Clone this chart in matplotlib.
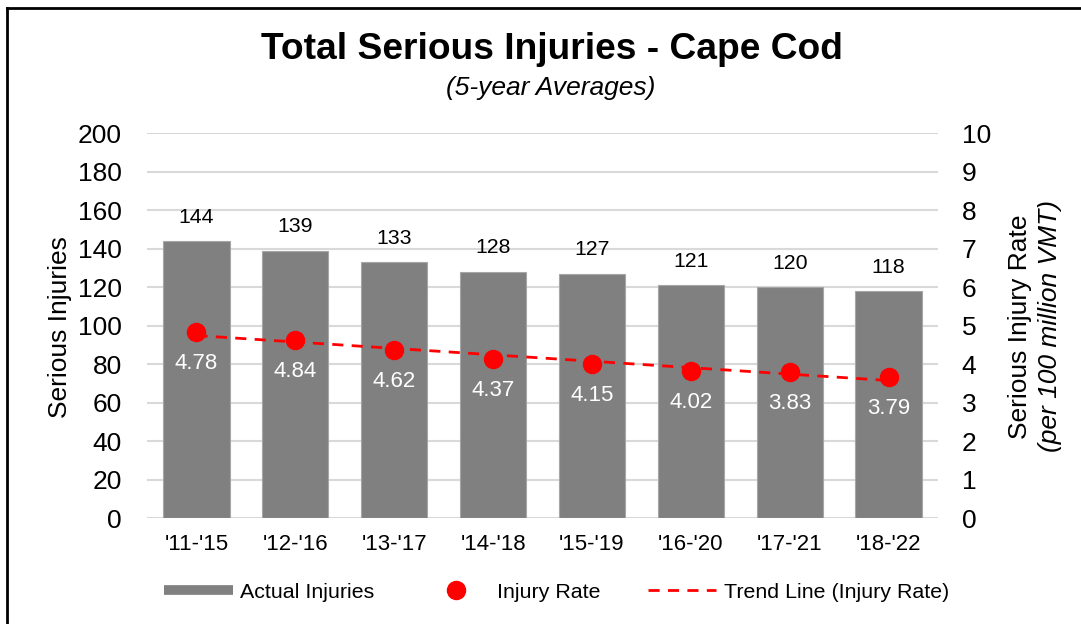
import numpy as np
import matplotlib.pyplot as plt
from matplotlib.lines import Line2D

plt.rcParams['font.family'] = ['Liberation Sans', 'DejaVu Sans']

periods = ["'11-'15", "'12-'16", "'13-'17", "'14-'18", "'15-'19", "'16-'20", "'17-'21", "'18-'22"]
injuries = [144, 139, 133, 128, 127, 121, 120, 118]
rate_points = [4.84, 4.62, 4.37, 4.15, 4.02, 3.83, 3.79, 3.68]
rate_labels = ["4.78", "4.84", "4.62", "4.37", "4.15", "4.02", "3.83", "3.79"]

fig = plt.figure(figsize=(10.81, 6.24), dpi=100)
ax = fig.add_axes([0.136, 0.1694, 0.7317, 0.617])
ax2 = ax.twinx()

x = np.arange(len(periods))
ax.bar(x, injuries, width=0.67, color='#808080', edgecolor='#a6a6a6', linewidth=0.8, zorder=2)
for xi, v in zip(x, injuries):
    ax.text(xi, v + 12.5, str(v), ha='center', va='center', fontsize=15.3, color='black')

ax.set_ylim(0, 200)
ax.set_yticks(range(0, 201, 20))
ax.set_xlim(-0.5, len(periods) - 0.5)
ax.set_xticks(x)
ax.set_xticklabels(periods, fontsize=16)
ax.tick_params(axis='y', labelsize=19, length=0, pad=18)
ax.tick_params(axis='x', length=0, pad=11)
ax.grid(axis='y', color='#d9d9d9', linewidth=1.5, zorder=0)
ax.set_axisbelow(True)
for s in ax.spines.values():
    s.set_visible(False)
for s in ax2.spines.values():
    s.set_visible(False)

# trend line from linear fit of rate
coef = np.polyfit(x, rate_points, 1)
ax2.plot(x, np.polyval(coef, x), color='#ff0000', linestyle=(0, (4, 3)), linewidth=2, zorder=3)
ax2.plot(x, rate_points, 'o', color='#ff0000', markersize=13, zorder=4)
for xi, v, lab in zip(x, rate_points, rate_labels):
    ax2.text(xi, v - 0.82, lab, ha='center', va='center', fontsize=16, color='white', zorder=5)

ax2.set_ylim(0, 10)
ax2.set_yticks(range(0, 11))
ax2.tick_params(axis='y', labelsize=19, length=0, pad=17)

fig.text(0.0555, 0.476, 'Serious Injuries', rotation=90, ha='center', va='center', fontsize=19)
fig.text(0.9436, 0.477, 'Serious Injury Rate', rotation=90, ha='center', va='center', fontsize=19)
fig.text(0.9713, 0.477, '(per 100 million VMT)', rotation=90, ha='center', va='center',
         fontsize=19, style='italic')

fig.text(0.5106, 0.92, 'Total Serious Injuries - Cape Cod', ha='center', va='center',
         fontsize=26.7, fontweight='bold')
fig.text(0.509, 0.859, '(5-year Averages)', ha='center', va='center', fontsize=19, style='italic')

handles = [Line2D([], [], color='#808080', linewidth=7, solid_capstyle='butt'),
           Line2D([], [], marker='o', color='#ff0000', linestyle='none', markersize=13),
           Line2D([], [], color='#ff0000', linestyle=(0, (4, 3)), linewidth=2)]
fig.legend(handles, ['Actual Injuries', 'Injury Rate', 'Trend Line (Injury Rate)'],
           loc='center', bbox_to_anchor=(0.515, 0.051), ncol=3, frameon=False, fontsize=15.4,
           handlelength=3.2, columnspacing=2.2, handletextpad=0.35)

# frame edges at top and left
fig.add_artist(Line2D([0.0065, 0.0065], [0, 0.987], color='black', linewidth=2, transform=fig.transFigure))
fig.add_artist(Line2D([0.0065, 1.0], [0.987, 0.987], color='black', linewidth=2, transform=fig.transFigure))

fig.savefig('out.png', dpi=100)
